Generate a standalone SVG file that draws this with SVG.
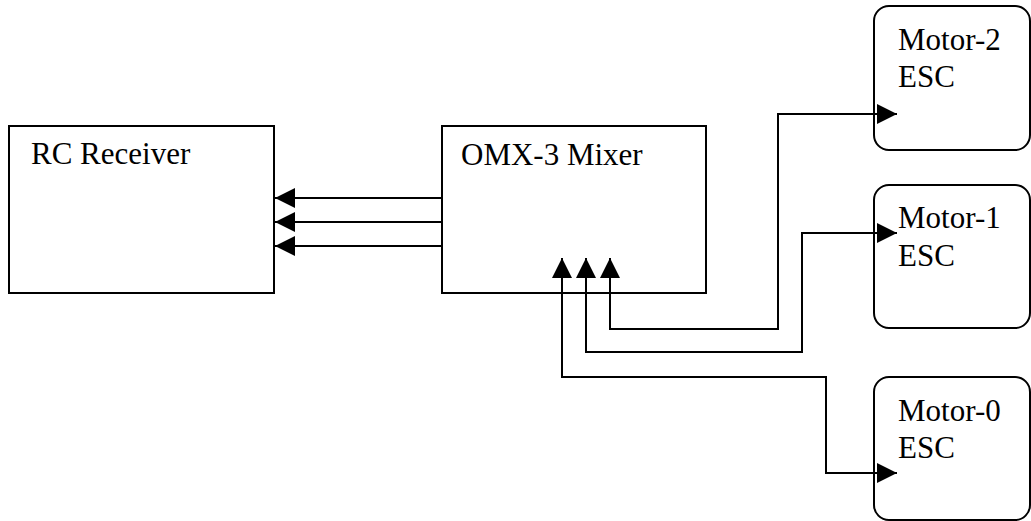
<svg xmlns="http://www.w3.org/2000/svg" width="1031" height="521" viewBox="0 0 1031 521">
<style>
.box{fill:#fff;stroke:#000;stroke-width:2}
.lbl{font-family:"Liberation Serif","Times New Roman",serif;font-size:31px;fill:#000}
.wire{fill:none;stroke:#000;stroke-width:2}
</style>
<defs>
<marker id="arr" viewBox="0 0 20 20" refX="20" refY="10" markerWidth="20" markerHeight="20" markerUnits="userSpaceOnUse" orient="auto-start-reverse">
<path d="M0,0 L20,10 L0,20 z" fill="#000"/>
</marker>
</defs>
<rect width="1031" height="521" fill="#fff"/>
<g id="rc-receiver">
<rect class="box" x="9" y="126" width="265" height="167"/>
<text class="lbl" x="31" y="164">RC Receiver</text>
</g>
<g id="mixer">
<rect class="box" x="442" y="126" width="264" height="167"/>
<text class="lbl" x="461" y="165">OMX-3 Mixer</text>
</g>
<g id="motor2">
<rect class="box" x="874" y="6" width="156" height="144" rx="15"/>
<text class="lbl" x="898" y="50">Motor-2</text>
<text class="lbl" x="898" y="87">ESC</text>
</g>
<g id="motor1">
<rect class="box" x="874" y="185" width="156" height="143" rx="15"/>
<text class="lbl" x="898" y="228">Motor-1</text>
<text class="lbl" x="898" y="266">ESC</text>
</g>
<g id="motor0">
<rect class="box" x="874" y="377" width="156" height="143" rx="15"/>
<text class="lbl" x="898" y="421">Motor-0</text>
<text class="lbl" x="898" y="458">ESC</text>
</g>
<g id="connectors">
<path class="wire" d="M442,198 H275" marker-end="url(#arr)"/>
<path class="wire" d="M442,222 H275" marker-end="url(#arr)"/>
<path class="wire" d="M442,246 H275" marker-end="url(#arr)"/>
<path class="wire" d="M610,258 V329 H778 V114 H897" marker-start="url(#arr)" marker-end="url(#arr)"/>
<path class="wire" d="M586,258 V352 H802 V233 H897" marker-start="url(#arr)" marker-end="url(#arr)"/>
<path class="wire" d="M562,258 V377 H826 V473 H897" marker-start="url(#arr)" marker-end="url(#arr)"/>
</g>
</svg>
